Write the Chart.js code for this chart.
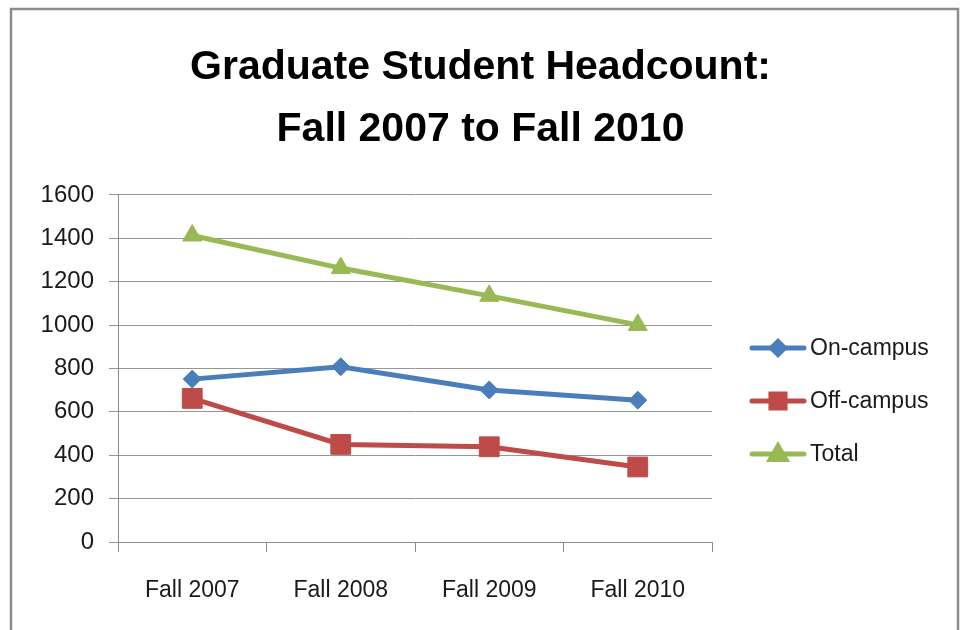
<!DOCTYPE html>
<html lang="en">
    <head>
        <meta charset="UTF-8" />
        <title>Graduate Student Headcount</title>
        <script src="https://cdn.jsdelivr.net/npm/chart.js@4.4.1/dist/chart.umd.min.js"></script>
        <style>
            html, body { margin: 0; padding: 0; background: #fff; }
            #wrapper { position: relative; width: 961px; height: 630px; }
        </style>
    </head>
    <body>
        <div id="wrapper">
            <canvas id="canvas" width="961" height="630"></canvas>
        </div>
        <script>
            // values
            let labels = ['Fall 2007', 'Fall 2008', 'Fall 2009', 'Fall 2010'];
            let onCampus = [751, 808, 701, 654];
            let offCampus = [662, 450, 439, 346];
            let total = [1413, 1263, 1135, 1001];
            let yTicks = [0, 200, 400, 600, 800, 1000, 1200, 1400, 1600];

            let textFont = 'Liberation Sans, Arial, sans-serif';

            // outer frame of the picture
            let framePlugin = {
                id: 'frame',
                beforeDraw(chart) {
                    let ctx = chart.ctx;
                    ctx.save();
                    ctx.fillStyle = '#fff';
                    ctx.fillRect(0, 0, chart.width, chart.height);
                    ctx.strokeStyle = '#8c8c8c';
                    ctx.lineWidth = 2.5;
                    ctx.strokeRect(11, 9, 947, 640);
                    ctx.restore();
                }
            };

            // legend on the right: line with the marker in the middle
            let sideLegend = {
                id: 'sideLegend',
                afterDraw(chart) {
                    let ctx = chart.ctx;
                    let sizes = [6.5, 10, 9];
                    ctx.save();
                    chart.data.datasets.forEach(function(ds, i) {
                        let y = 348 + i * 53;
                        ctx.strokeStyle = ds.borderColor;
                        ctx.lineWidth = 5;
                        ctx.lineCap = 'round';
                        ctx.beginPath();
                        ctx.moveTo(752, y);
                        ctx.lineTo(804, y);
                        ctx.stroke();
                        ctx.fillStyle = ds.pointBackgroundColor;
                        ctx.strokeStyle = ds.borderColor;
                        Chart.helpers.drawPoint(ctx, {
                            pointStyle: ds.pointStyle,
                            radius: sizes[i],
                            rotation: 0,
                            borderWidth: 1
                        }, 778, y + (ds.pointStyle === 'triangle' ? 1 : 0));
                        ctx.fillStyle = '#1a1a1a';
                        ctx.font = '23px ' + textFont;
                        ctx.textAlign = 'left';
                        ctx.textBaseline = 'middle';
                        ctx.fillText(ds.label, 810, y + 1);
                    });
                    ctx.restore();
                }
            };

            let options = {
                type: 'line',
                data: {
                    labels: labels,
                    datasets: [{
                        label: 'On-campus',
                        data: onCampus,
                        borderColor: '#4a7ebb',
                        pointBackgroundColor: '#4a7ebb',
                        pointStyle: 'rectRot',
                        pointRadius: 9
                    }, {
                        label: 'Off-campus',
                        data: offCampus,
                        borderColor: '#be4b48',
                        pointBackgroundColor: '#be4b48',
                        pointStyle: 'rect',
                        pointRadius: 14
                    }, {
                        label: 'Total',
                        data: total,
                        borderColor: '#98b954',
                        pointBackgroundColor: '#98b954',
                        pointStyle: 'triangle',
                        pointRadius: 11
                    }]
                },
                options: {
                    responsive: false,
                    animation: false,
                    events: [],
                    layout: {
                        padding: 0
                    },
                    elements: {
                        line: { borderWidth: 5, tension: 0 },
                        point: { borderWidth: 1, hoverRadius: 0 }
                    },
                    plugins: {
                        legend: { display: false },
                        tooltip: { enabled: false },
                        title: {
                            display: true,
                            text: ['Graduate Student Headcount:', 'Fall 2007 to Fall 2010'],
                            color: '#000',
                            font: { family: textFont, size: 41, weight: 'bold', lineHeight: 1.512 },
                            padding: { top: 37, bottom: 34 }
                        }
                    },
                    scales: {
                        x: {
                            offset: true,
                            grid: {
                                offset: true,
                                drawOnChartArea: false,
                                drawTicks: true,
                                tickLength: 10,
                                color: '#8c8c8c'
                            },
                            border: { color: '#8c8c8c', width: 1 },
                            ticks: {
                                color: '#1a1a1a',
                                padding: 25,
                                font: { family: textFont, size: 23 }
                            },
                            afterFit(scale) { scale.height = 88; }
                        },
                        y: {
                            min: 0,
                            max: 1600,
                            afterBuildTicks(scale) {
                                scale.ticks = yTicks.map(function(v) { return { value: v }; });
                            },
                            grid: {
                                color: '#969696',
                                tickLength: 9
                            },
                            border: { color: '#8c8c8c', width: 1 },
                            ticks: {
                                color: '#1a1a1a',
                                padding: 15,
                                font: { family: textFont, size: 24 },
                                callback: function(value) { return String(value); }
                            },
                            afterFit(scale) { scale.width = 118; }
                        },
                        // empty axis that keeps the room for the legend on the right
                        side: {
                            position: 'right',
                            display: true,
                            grid: { display: false, drawTicks: false },
                            border: { display: false },
                            ticks: { display: false },
                            afterFit(scale) { scale.width = 249; }
                        }
                    }
                },
                plugins: [framePlugin, sideLegend]
            };

            let chart1 = new Chart(document.getElementById('canvas'), options);
        </script>
    </body>
</html>
